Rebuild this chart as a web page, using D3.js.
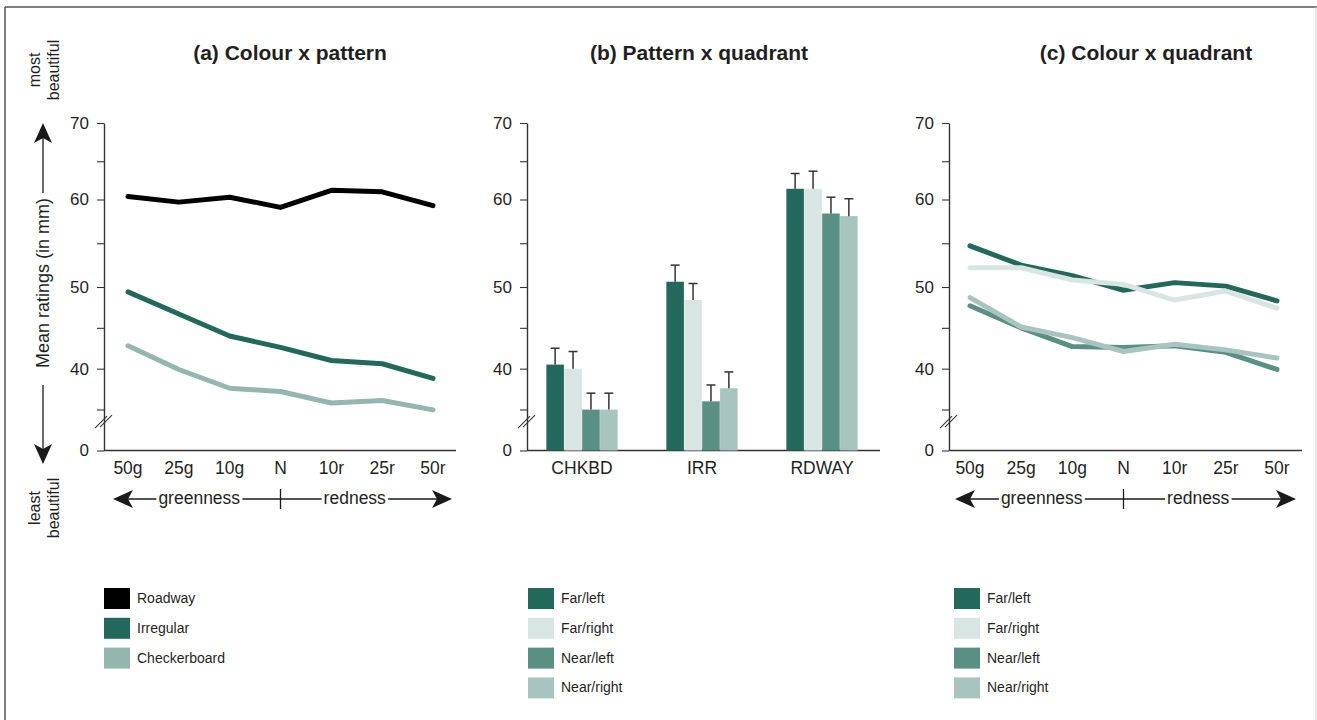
<!DOCTYPE html>
<html>
<head>
<meta charset="utf-8">
<script src="https://cdn.jsdelivr.net/npm/d3@7"></script>
<style>
  body { margin: 0; background: #fff; }
  svg text { font-family: 'Liberation Sans', Arial, Helvetica, sans-serif; fill: #1f1f1f; }
</style>
</head>
<body>
<svg id="fig" width="1317" height="720"></svg>
<script>
// ---- data ----
const colourLevels = ['50g', '25g', '10g', 'N', '10r', '25r', '50r'];
const patternNames = ['Roadway', 'Irregular', 'Checkerboard'];
const roadwayMeans = [60.4, 59.7, 60.3, 59.1, 61.2, 61.0, 59.3];
const irregularMeans = [49.4, 46.7, 44.0, 42.6, 41.0, 40.6, 38.8];
const checkerboardMeans = [42.8, 39.9, 37.6, 37.2, 35.8, 36.1, 34.7];

const patternCodes = ['CHKBD', 'IRR', 'RDWAY'];
const quadrantNames = ['Far/left', 'Far/right', 'Near/left', 'Near/right'];
const farLeftByPattern = [40.5, 50.6, 61.4];
const farRightByPattern = [40.0, 48.4, 61.4];
const nearLeftByPattern = [34.9, 36.0, 58.4];
const nearRightByPattern = [34.9, 37.6, 58.1];
const farLeftErr = [2.0, 1.9, 2.0];
const farRightErr = [2.1, 2.0, 2.3];
const nearLeftErr = [2.1, 2.0, 1.9];
const nearRightErr = [2.1, 2.0, 2.0];

const farLeftByColour = [54.7, 52.5, 51.3, 49.6, 50.5, 50.1, 48.3];
const farRightByColour = [52.2, 52.2, 50.8, 50.3, 48.4, 49.5, 47.4];
const nearLeftByColour = [47.7, 45.0, 42.7, 42.6, 42.8, 42.0, 39.9];
const nearRightByColour = [48.7, 45.1, 43.8, 42.1, 43.0, 42.3, 41.3];

const yTicks = [0, 35, 40, 45, 50, 55, 60, 65, 70];
const yTickLabels = [0, 40, 50, 60, 70];

const patternColours = ['#000000', '#22695b', '#93b6ae'];
const quadrantColours = ['#22695b', '#d9e5e2', '#5a8f84', '#a8c4be'];

// ---- layout ----
const svg = d3.select('#fig');
const ink = '#1a1a1a';

// broken axis: 0 at the bottom, then 35..70 above the break
// (the printed figure spaces its gridlines slightly unevenly, so the scale follows it)
const yScale = d3.scaleLinear()
  .domain([0, 35, 50, 60, 70])
  .range([450.5, 409.5, 287, 199.5, 123]);

// frame
svg.append('line').attr('x1', 5).attr('x2', 1317).attr('y1', 7).attr('y2', 7)
  .attr('stroke', '#555').attr('stroke-width', 1.5);
svg.append('line').attr('x1', 5).attr('x2', 5).attr('y1', 7).attr('y2', 720)
  .attr('stroke', '#555').attr('stroke-width', 1.5);
svg.append('line').attr('x1', 1316).attr('x2', 1316).attr('y1', 7).attr('y2', 720)
  .attr('stroke', '#d0d0d0').attr('stroke-width', 1);

function arrowHead(g, x, y, dir) {
  // dir: 'left' | 'right' | 'up' | 'down'
  const L = 20, W = 9, N = 5;
  let pts;
  if (dir === 'left') pts = [[x, y], [x + L, y - W], [x + L - N, y], [x + L, y + W]];
  if (dir === 'right') pts = [[x, y], [x - L, y - W], [x - L + N, y], [x - L, y + W]];
  if (dir === 'up') pts = [[x, y], [x - W, y + L], [x, y + L - N], [x + W, y + L]];
  if (dir === 'down') pts = [[x, y], [x - W, y - L], [x, y - L + N], [x + W, y - L]];
  g.append('path').attr('d', d3.line()(pts) + 'Z').attr('fill', ink);
}

function drawAxes(g, x0, x1) {
  const axis = d3.axisLeft(yScale)
    .tickValues(yTicks)
    .tickFormat(d => yTickLabels.includes(d) ? d : '')
    .tickSize(7)
    .tickSizeOuter(0)
    .tickPadding(8);
  const ax = g.append('g').attr('transform', `translate(${x0},0)`).call(axis);
  ax.select('.domain').attr('stroke', '#333').attr('stroke-width', 1.4);
  ax.selectAll('.tick line').attr('stroke', '#333').attr('stroke-width', 1.1);
  ax.selectAll('.tick text').attr('font-size', 17).attr('fill', '#222');

  g.append('line')
    .attr('x1', x0).attr('x2', x1)
    .attr('y1', yScale(0)).attr('y2', yScale(0))
    .attr('stroke', '#333').attr('stroke-width', 1.4);

  // break marks
  const yb = yScale(35) + 12;
  [-3, 2].forEach(o => {
    g.append('line')
      .attr('x1', x0 + o - 6).attr('y1', yb + 6 - o * 0.2)
      .attr('x2', x0 + o + 6).attr('y2', yb - 6 - o * 0.2)
      .attr('stroke', '#333').attr('stroke-width', 1.1);
  });
}

function drawCategoryLabels(g, x, cats) {
  g.selectAll('text.cat')
    .data(cats)
    .join('text')
    .attr('class', 'cat')
    .attr('x', d => x(d))
    .attr('y', yScale(0) + 23)
    .attr('text-anchor', 'middle')
    .attr('font-size', 17.5)
    .text(d => d);
}

function drawGreenRedRow(g, x) {
  const yr = 499;
  const xl = x(colourLevels[0]) - 15;
  const xr = x(colourLevels[colourLevels.length - 1]) + 19;
  const xn = x('N');
  g.append('line').attr('x1', xl + 10).attr('x2', xr - 10).attr('y1', yr).attr('y2', yr)
    .attr('stroke', ink).attr('stroke-width', 1.3);
  g.append('line').attr('x1', xn).attr('x2', xn).attr('y1', yr - 10).attr('y2', yr + 10)
    .attr('stroke', ink).attr('stroke-width', 1.3);
  arrowHead(g, xl, yr, 'left');
  arrowHead(g, xr, yr, 'right');

  const words = [
    { t: 'greenness', cx: (x(colourLevels[0]) + xn) / 2 - 5 },
    { t: 'redness', cx: (xn + x(colourLevels[6])) / 2 - 2 }
  ];
  words.forEach(w => {
    const bg = g.append('rect').attr('fill', '#fff');
    const t = g.append('text')
      .attr('x', w.cx).attr('y', yr + 5)
      .attr('text-anchor', 'middle')
      .attr('font-size', 17.5)
      .text(w.t);
    const bb = t.node().getBBox();
    bg.attr('x', bb.x - 2).attr('y', yr - 3).attr('width', bb.width + 4).attr('height', 6);
  });
}

function drawTitle(cx, label) {
  svg.append('text')
    .attr('x', cx).attr('y', 60)
    .attr('text-anchor', 'middle')
    .attr('font-size', 21)
    .attr('font-weight', 'bold')
    .attr('fill', '#111')
    .text(label);
}

function drawLegend(x0, names, colours) {
  const lg = svg.append('g').attr('transform', `translate(${x0},588)`);
  const rows = lg.selectAll('g').data(names).join('g')
    .attr('transform', (d, i) => `translate(0,${i * 29.8})`);
  rows.append('rect').attr('width', 26).attr('height', 21)
    .attr('fill', (d, i) => colours[i]);
  rows.append('text').attr('x', 33).attr('y', 15)
    .attr('font-size', 14).attr('fill', '#222')
    .text(d => d);
}

// ---- shared y label on the left ----
const yl = svg.append('g');
yl.append('text')
  .attr('transform', 'translate(40,70) rotate(-90)')
  .attr('text-anchor', 'middle').attr('font-size', 16).text('most');
yl.append('text')
  .attr('transform', 'translate(59,70) rotate(-90)')
  .attr('text-anchor', 'middle').attr('font-size', 16).text('beautiful');
yl.append('text')
  .attr('transform', 'translate(49,283) rotate(-90)')
  .attr('text-anchor', 'middle').attr('font-size', 18).text('Mean ratings (in mm)');
yl.append('line').attr('x1', 43).attr('x2', 43).attr('y1', 193).attr('y2', 135)
  .attr('stroke', ink).attr('stroke-width', 1.3);
arrowHead(yl, 43, 123, 'up');
yl.append('line').attr('x1', 43).attr('x2', 43).attr('y1', 385).attr('y2', 452)
  .attr('stroke', ink).attr('stroke-width', 1.3);
arrowHead(yl, 43, 464, 'down');
yl.append('text')
  .attr('transform', 'translate(40,508) rotate(-90)')
  .attr('text-anchor', 'middle').attr('font-size', 16).text('least');
yl.append('text')
  .attr('transform', 'translate(59,508) rotate(-90)')
  .attr('text-anchor', 'middle').attr('font-size', 16).text('beautiful');

// ---- (a) Colour x pattern ----
const gA = svg.append('g');
const xA = d3.scalePoint().domain(colourLevels).range([128, 433]);
drawTitle(290, '(a) Colour x pattern');
drawAxes(gA, 104, 456);
drawCategoryLabels(gA, xA, colourLevels);
drawGreenRedRow(gA, xA);

const lineA = d3.line().x((d, i) => xA(colourLevels[i])).y(d => yScale(d));
[roadwayMeans, irregularMeans, checkerboardMeans].forEach((s, i) => {
  gA.append('path').datum(s)
    .attr('d', lineA)
    .attr('fill', 'none')
    .attr('stroke', patternColours[i])
    .attr('stroke-width', 5)
    .attr('stroke-linejoin', 'round')
    .attr('stroke-linecap', 'round');
});
drawLegend(104, patternNames, patternColours);

// ---- (b) Pattern x quadrant ----
const gB = svg.append('g');
const x0B = d3.scaleBand().domain(patternCodes).range([526, 878])
  .paddingInner(0.4).paddingOuter(0.1667);
const x1B = d3.scaleBand().domain(quadrantNames).range([0, x0B.bandwidth()]).padding(0.02);
drawTitle(699, '(b) Pattern x quadrant');
drawAxes(gB, 527, 880);
drawCategoryLabels(gB, d => x0B(d) + x0B.bandwidth() / 2, patternCodes);

const quadMeans = [farLeftByPattern, farRightByPattern, nearLeftByPattern, nearRightByPattern];
const quadErr = [farLeftErr, farRightErr, nearLeftErr, nearRightErr];
const barData = [];
patternCodes.forEach((p, pi) => {
  quadrantNames.forEach((q, qi) => {
    barData.push({ p, q, qi, v: quadMeans[qi][pi], se: quadErr[qi][pi] });
  });
});

const groups = gB.selectAll('g.bar').data(barData).join('g').attr('class', 'bar');
groups.append('rect')
  .attr('x', d => x0B(d.p) + x1B(d.q))
  .attr('width', x1B.bandwidth())
  .attr('y', d => yScale(d.v))
  .attr('height', d => yScale(0) - yScale(d.v))
  .attr('fill', d => quadrantColours[d.qi]);
groups.append('line')
  .attr('x1', d => x0B(d.p) + x1B(d.q) + x1B.bandwidth() / 2)
  .attr('x2', d => x0B(d.p) + x1B(d.q) + x1B.bandwidth() / 2)
  .attr('y1', d => yScale(d.v))
  .attr('y2', d => yScale(d.v + d.se))
  .attr('stroke', '#333').attr('stroke-width', 1.5);
groups.append('line')
  .attr('x1', d => x0B(d.p) + x1B(d.q) + x1B.bandwidth() / 2 - 4.5)
  .attr('x2', d => x0B(d.p) + x1B(d.q) + x1B.bandwidth() / 2 + 4.5)
  .attr('y1', d => yScale(d.v + d.se))
  .attr('y2', d => yScale(d.v + d.se))
  .attr('stroke', '#333').attr('stroke-width', 1.5);
drawLegend(528, quadrantNames, quadrantColours);

// ---- (c) Colour x quadrant ----
const gC = svg.append('g');
const xC = d3.scalePoint().domain(colourLevels).range([970, 1277]);
drawTitle(1146, '(c) Colour x quadrant');
drawAxes(gC, 949, 1302);
drawCategoryLabels(gC, xC, colourLevels);
drawGreenRedRow(gC, xC);

const lineC = d3.line().x((d, i) => xC(colourLevels[i])).y(d => yScale(d));
[farLeftByColour, farRightByColour, nearLeftByColour, nearRightByColour].forEach((s, i) => {
  gC.append('path').datum(s)
    .attr('d', lineC)
    .attr('fill', 'none')
    .attr('stroke', quadrantColours[i])
    .attr('stroke-width', 5)
    .attr('stroke-linejoin', 'round')
    .attr('stroke-linecap', 'round');
});
drawLegend(954, quadrantNames, quadrantColours);
</script>
</body>
</html>
